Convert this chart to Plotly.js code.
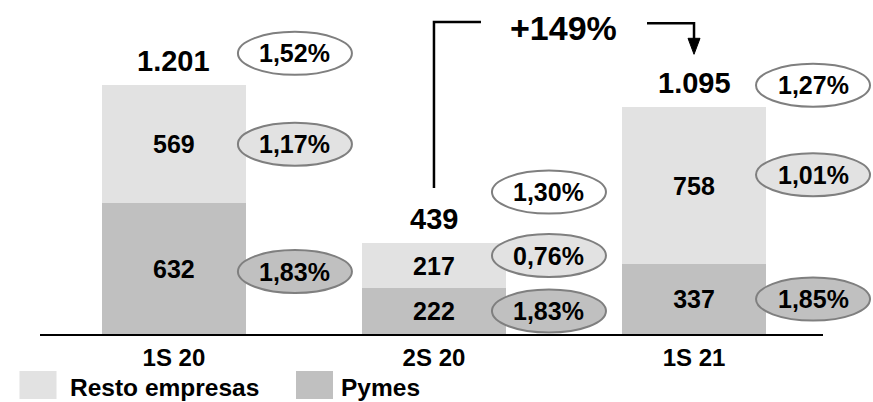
<!DOCTYPE html>
<html>
<head>
<meta charset="utf-8">
<script src="https://cdn.plot.ly/plotly-3.0.1.min.js"></script>
<style>html,body{margin:0;padding:0;background:#fff;}#chart{width:873px;height:402px;}</style>
</head>
<body>
<div id="chart"></div>
<script>
// ---- data ----
var categories = ['1S 20', '2S 20', '1S 21'];
var pymes = [632, 222, 337];
var resto = [569, 217, 758];
var pctTotal = [1.52, 1.30, 1.27];
var pctResto = [1.17, 0.76, 1.01];
var pctPymes = [1.83, 1.83, 1.85];
var seriesNames = ['Resto empresas', 'Pymes'];

// ---- style / layout constants ----
var FONT = 'Liberation Sans, Arial, sans-serif';
var C_RESTO = '#e2e2e2';
var C_PYMES = '#c0c0c0';
var C_STROKE = '#7f7f7f';
var W = 873, H = 402;
var M = { l: 40, r: 50, t: 10, b: 68 };
var XRANGE = [-0.515, 2.496];
var ellDx = [121, 115, 119];       // px right of bar center
var ellTotDy = [32, 51, 22];        // px above bar top
var ellRestoDy = [0, 10, 11];       // px from segment middle
var ellPymesDy = [-3, 0, 0];
var ELL_W = 114, ELL_H = 43;
// legend placement (px)
var LEG_SW = [[19.5, 56.5], [296, 333]];
var LEG_TX = [69, 340];
var LEG_Y0 = 371, LEG_Y1 = 399, LEG_TY = 387;

var xs = categories.map(function (c, i) { return i; });
var totals = pymes.map(function (v, i) { return v + resto[i]; });
var plotW = W - M.l - M.r, plotH = H - M.t - M.b;

function thousands(n) { return String(n).replace(/\B(?=(\d{3})+(?!\d))/g, '.'); }
function pct(v) { return v.toFixed(2).replace('.', ',') + '%'; }
function xPaper(i) { return (i - XRANGE[0]) / (XRANGE[1] - XRANGE[0]); }
function pxX(px) { return (px - M.l) / plotW; }
function pxY(py) { return (H - M.b - py) / plotH; }

var traces = [
  { type: 'bar', name: seriesNames[1], x: xs, y: pymes, marker: { color: C_PYMES },
    text: pymes.map(thousands), textposition: 'inside', insidetextanchor: 'middle', constraintext: 'none',
    textfont: { family: FONT, size: 25, color: '#000', weight: 'bold' }, hoverinfo: 'skip' },
  { type: 'bar', name: seriesNames[0], x: xs, y: resto, marker: { color: C_RESTO },
    text: resto.map(thousands), textposition: 'inside', insidetextanchor: 'middle', constraintext: 'none',
    textfont: { family: FONT, size: 25, color: '#000', weight: 'bold' }, hoverinfo: 'skip' }
];

var shapes = [];
var annotations = [];

function ellipse(i, yData, dy, fill, label) {
  shapes.push({ type: 'circle', xref: 'paper', yref: 'y', xsizemode: 'pixel', ysizemode: 'pixel',
    xanchor: xPaper(i), yanchor: yData,
    x0: ellDx[i] - ELL_W / 2, x1: ellDx[i] + ELL_W / 2,
    y0: dy - ELL_H / 2, y1: dy + ELL_H / 2,
    fillcolor: fill, line: { color: C_STROKE, width: 2 }, layer: 'above' });
  annotations.push({ xref: 'x', yref: 'y', x: i, y: yData, xshift: ellDx[i], yshift: dy,
    text: label, showarrow: false, xanchor: 'center', yanchor: 'middle',
    font: { family: FONT, size: 25, color: '#000', weight: 'bold' } });
}

xs.forEach(function (i) {
  annotations.push({ xref: 'x', yref: 'y', x: i, y: totals[i], yshift: 24, showarrow: false,
    text: thousands(totals[i]), xanchor: 'center', yanchor: 'middle',
    font: { family: FONT, size: 29, color: '#000', weight: 'bold' } });
  ellipse(i, totals[i], ellTotDy[i], '#ffffff', pct(pctTotal[i]));
  ellipse(i, pymes[i] + resto[i] / 2, ellRestoDy[i], C_RESTO, pct(pctResto[i]));
  ellipse(i, pymes[i] / 2, ellPymesDy[i], C_PYMES, pct(pctPymes[i]));
});

// growth bracket arrow 2S 20 -> 1S 21
var growth = Math.round((totals[2] / totals[1] - 1) * 100);
shapes.push({ type: 'path', xref: 'x', yref: 'y', xsizemode: 'pixel', ysizemode: 'pixel',
  xanchor: 1, yanchor: totals[1], path: 'M0,55 L0,221 L47,221',
  line: { color: '#000', width: 2.5 } });
shapes.push({ type: 'path', xref: 'x', yref: 'y', xsizemode: 'pixel', ysizemode: 'pixel',
  xanchor: 2, yanchor: totals[2], path: 'M-47,84 L0,84 L0,66',
  line: { color: '#000', width: 2.5 } });
shapes.push({ type: 'path', xref: 'x', yref: 'y', xsizemode: 'pixel', ysizemode: 'pixel',
  xanchor: 2, yanchor: totals[2], path: 'M-6,69 L6,69 L0,53 Z',
  fillcolor: '#000', line: { color: '#000', width: 1 } });
annotations.push({ xref: 'x', yref: 'paper', x: 1.5, y: pxY(28), showarrow: false,
  text: '+' + growth + '%', xanchor: 'center', yanchor: 'middle',
  font: { family: FONT, size: 34, color: '#000', weight: 'bold' } });

// legend (swatches + names)
var legColors = [C_RESTO, C_PYMES];
seriesNames.forEach(function (name, k) {
  shapes.push({ type: 'rect', xref: 'paper', yref: 'paper',
    x0: pxX(LEG_SW[k][0]), x1: pxX(LEG_SW[k][1]), y0: pxY(LEG_Y1), y1: pxY(LEG_Y0),
    fillcolor: legColors[k], line: { width: 0 } });
  annotations.push({ xref: 'paper', yref: 'paper', x: pxX(LEG_TX[k]), y: pxY(LEG_TY),
    text: name, showarrow: false, xanchor: 'left', yanchor: 'middle', borderpad: 0,
    font: { family: FONT, size: 24.5, color: '#000', weight: 'bold' } });
});

var layout = {
  width: W, height: H,
  margin: { l: M.l, r: M.r, t: M.t, b: M.b, autoexpand: false },
  paper_bgcolor: '#fff', plot_bgcolor: '#fff',
  font: { family: FONT, color: '#000' },
  barmode: 'stack', bargap: 0.443,
  separators: ',.',
  showlegend: false,
  xaxis: { range: XRANGE, tickvals: xs, ticktext: categories, showgrid: false, zeroline: false,
    showline: true, linecolor: '#000', linewidth: 2, ticks: '', ticklabelstandoff: 1, fixedrange: true,
    tickfont: { family: FONT, size: 24, color: '#000', weight: 'bold' } },
  yaxis: { range: [0, 1565], visible: false, showgrid: false, zeroline: false, fixedrange: true },
  shapes: shapes,
  annotations: annotations
};

Plotly.newPlot('chart', traces, layout, { staticPlot: true, displayModeBar: false });
</script>
</body>
</html>
